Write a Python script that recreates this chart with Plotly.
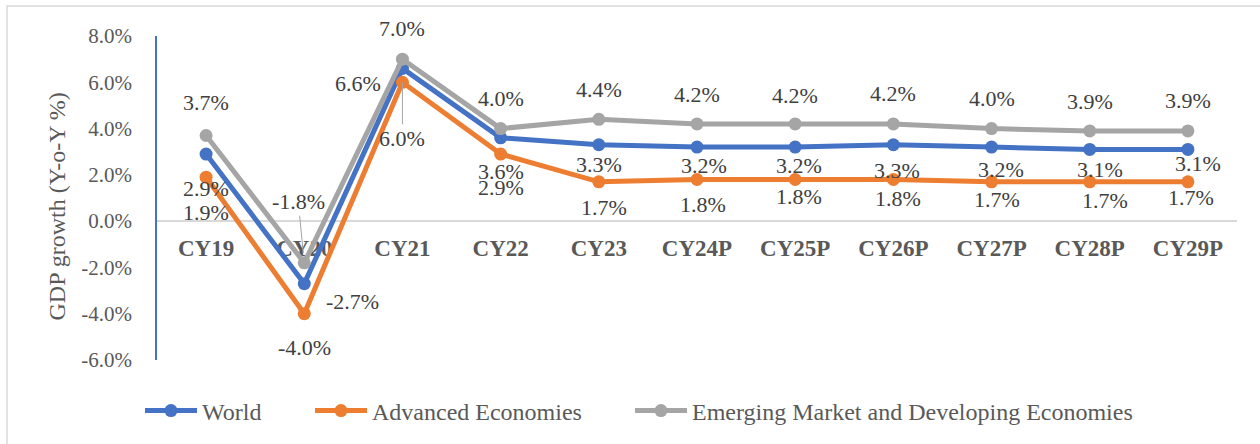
import plotly.graph_objects as go

# ---------------- data ----------------
categories = ["CY19", "CY20", "CY21", "CY22", "CY23", "CY24P", "CY25P",
              "CY26P", "CY27P", "CY28P", "CY29P"]
world = [2.9, -2.7, 6.6, 3.6, 3.3, 3.2, 3.2, 3.3, 3.2, 3.1, 3.1]
advanced = [1.9, -4.0, 6.0, 2.9, 1.7, 1.8, 1.8, 1.8, 1.7, 1.7, 1.7]
emde = [3.7, -1.8, 7.0, 4.0, 4.4, 4.2, 4.2, 4.2, 4.0, 3.9, 3.9]
y_ticks = [-6, -4, -2, 0, 2, 4, 6, 8]
series_names = ["World", "Advanced Economies",
                "Emerging Market and Developing Economies"]

# ---------------- styling ----------------
W, H = 1260, 444
ML, MR, MT, MB = 157, 23, 36, 83
PW, PH = W - ML - MR, H - MT - MB
FONT = "Times New Roman, Liberation Serif, serif"
colors = ["#4472C4", "#ED7D31", "#A5A5A5"]
TXT = "#595959"
LBL = "#404040"

# data-label pixel offsets (dx, dy; dy positive = downward)
world_off = [(0, 34), (48, 18), (-44, 15), (0, 34), (0, 20), (7, 18), (4, 18),
             (4, 26), (9, 22), (10, 20), (10, 14)]
adv_off = [(0, 35), (0, 34), (0, 56), (0, 33), (5, 26), (6, 25), (4, 17),
           (5, 19), (5, 18), (15, 19), (3, 16)]
emde_off = [(0, -33), (-6, -61), (0, -31), (0, -30), (0, -30), (0, -29),
            (0, -28), (0, -30), (0, -30), (0, -29), (0, -30)]
leaders = {(2, 1), (1, 2)}  # (series index, point index) with leader lines
legend_left_px = [140, 310, 630]
legend_ids = ["legend", "legend2", "legend3"]

fig = go.Figure()
all_series = [world, advanced, emde]
for name, vals, col, lid in zip(series_names, all_series, colors, legend_ids):
    fig.add_trace(go.Scatter(
        x=categories, y=vals, name=name, mode="lines+markers",
        line=dict(color=col, width=5),
        marker=dict(color=col, size=13),
        hoverinfo="skip", legend=lid,
    ))

annotations = []
for si, (vals, offs) in enumerate(zip(all_series, [world_off, adv_off, emde_off])):
    for pi, (c, v) in enumerate(zip(categories, vals)):
        dx, dy = offs[pi]
        lead = (si, pi) in leaders
        annotations.append(dict(
            x=c, y=v, xref="x", yref="y", text=f"{v:.1f}%",
            showarrow=True, ax=dx, ay=dy,
            arrowhead=0, arrowwidth=1,
            arrowcolor="#A6A6A6" if lead else "rgba(0,0,0,0)",
            standoff=10 if si == 2 else 0,
            font=dict(family=FONT, size=22, color=LBL),
        ))

# y-axis title
annotations.append(dict(
    text="GDP growth (Y-o-Y %)", xref="paper", yref="paper",
    x=(57 - ML) / PW, y=(H - MB - 207) / PH, textangle=-90,
    showarrow=False, xanchor="center", yanchor="middle",
    font=dict(family=FONT, size=24, color=TXT),
))

legend_style = dict(orientation="h", xanchor="left",
                    y=(H - MB - 411) / PH, yanchor="middle",
                    font=dict(family=FONT, size=24, color=TXT),
                    itemwidth=52, bgcolor="rgba(0,0,0,0)")
legends = {lid: dict(legend_style, x=(px - ML) / PW)
           for lid, px in zip(legend_ids, legend_left_px)}

fig.update_layout(
    width=W, height=H,
    margin=dict(l=ML, r=MR, t=MT, b=MB, pad=0),
    paper_bgcolor="white", plot_bgcolor="white",
    showlegend=True,
    annotations=annotations,
    shapes=[dict(type="rect", xref="paper", yref="paper",
                 x0=(7 - ML) / PW, x1=(W + 20 - ML) / PW,
                 y0=(H - MB - (H + 20)) / PH, y1=(H - MB - 6) / PH,
                 line=dict(color="#D9D9D9", width=1.5), fillcolor="rgba(0,0,0,0)")],
    **legends,
)

fig.update_xaxes(
    type="category", range=[-0.5, len(categories) - 0.5],
    anchor="free", position=6 / 14,
    showline=False, showgrid=False, zeroline=False, ticks="",
    ticklabelstandoff=11, layer="below traces",
    tickfont=dict(family=FONT, size=23, color=TXT, weight="bold"),
)
fig.update_yaxes(
    range=[-6, 8], tickvals=y_ticks,
    ticktext=[f"{t:.1f}%" for t in y_ticks],
    showgrid=False, ticks="",
    showline=True, linecolor="#4472C4", linewidth=1.5,
    zeroline=True, zerolinecolor="#D9D9D9", zerolinewidth=2,
    ticklabelstandoff=19,
    tickfont=dict(family=FONT, size=21, color=TXT),
)

fig.write_html("out.html", config={"displayModeBar": False},
               post_script="document.body.style.margin='0';")
